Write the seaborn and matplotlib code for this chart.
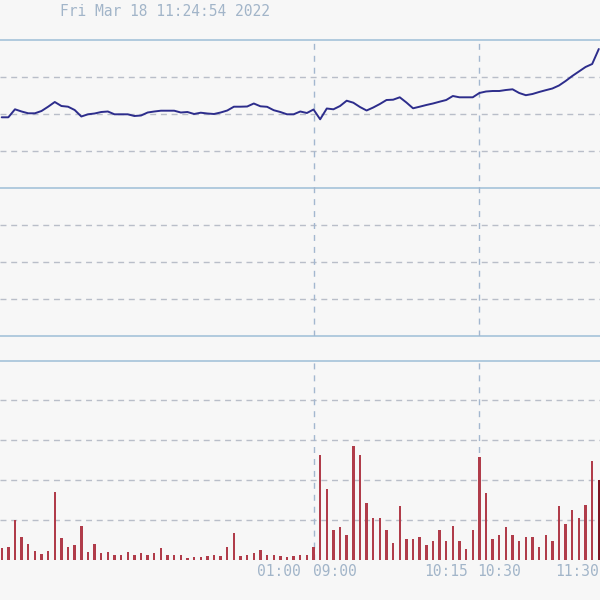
import matplotlib
matplotlib.use("Agg")
import matplotlib.pyplot as plt
import matplotlib.transforms as mtransforms
import numpy as np
import pandas as pd
import seaborn as sns

# ---------------- data ----------------
title_text = "Fri Mar 18 11:24:54 2022"

# 5-minute bar index (0..90)
bar_index = list(range(91))

price = [
    3218.7, 3218.7, 3226.7, 3224.5, 3222.7, 3222.7, 3225.0, 3229.3, 3234.0, 3230.0,
    3229.3, 3226.0, 3219.5, 3221.7, 3222.5, 3224.0, 3224.5, 3221.7, 3221.7, 3221.7,
    3220.0, 3220.5, 3223.5, 3224.5, 3225.3, 3225.3, 3225.3, 3223.5, 3224.0, 3222.0,
    3223.3, 3222.5, 3222.0, 3223.5, 3225.5, 3229.3, 3229.3, 3229.5, 3232.5, 3229.7,
    3229.2, 3225.8, 3224.0, 3221.7, 3221.7, 3224.5, 3223.0, 3226.5, 3216.7, 3227.5,
    3226.7, 3230.0, 3235.3, 3233.3, 3229.0, 3225.5, 3228.5, 3232.0, 3236.0, 3236.3,
    3238.7, 3233.5, 3227.7, 3229.3, 3231.0, 3232.5, 3234.3, 3236.0, 3240.0, 3238.7,
    3238.7, 3238.7, 3243.0, 3244.5, 3245.0, 3245.0, 3246.0, 3246.7, 3243.0, 3240.8,
    3242.0, 3244.0, 3245.8, 3247.5, 3250.5, 3255.0, 3260.0, 3264.5, 3269.0, 3272.0,
    3287.0,
]

volume = [
    12, 13, 40, 23, 16, 9, 6, 9, 68, 22,
    13, 15, 34, 8, 16, 7, 8, 5, 5, 8,
    5, 7, 5, 7, 12, 5, 5, 5, 2, 3,
    3, 4, 5, 4, 13, 27, 4, 5, 7, 10,
    5, 5, 4, 3, 4, 5, 5, 13, 105, 71,
    30, 33, 25, 114, 105, 57, 42, 42, 30, 17,
    54, 21, 21, 23, 15, 19, 30, 19, 34, 19,
    11, 30, 103, 67, 21, 25, 33, 25, 19, 23,
    23, 13, 25, 19, 54, 36, 50, 42, 55, 99,
    80,
]

session_breaks = [47, 72]
tick_labels = ["01:00", "09:00", "10:15", "10:30", "11:30"]
tick_pos = [45.0, 46.9, 70.3, 71.7, 83.4]
tick_align = ["right", "left", "right", "left", "left"]

price_min, price_max = 3000, 3296
price_grid = [3000 + 37 * k for k in range(9)]
vol_max = 199
vol_grid = [40, 80, 120, 160]

df = pd.DataFrame({"idx": bar_index, "price": price, "volume": volume})

# ---------------- style ----------------
sns.set_theme(style="white")
plt.rcParams["font.family"] = ["DejaVu Sans Mono", "DejaVu Sans"]

bg = "#f7f7f7"
solid_c = "#abc7dc"
dash_c = "#b9bec9"
vdash_c = "#a3b7cf"
text_c = "#a2b5c9"
line_c = "#2d2d8c"
bar_c = "#b03c4a"
last_bar_c = "#7d1422"

fig = plt.figure(figsize=(6, 6), dpi=100, facecolor=bg)
ax1 = fig.add_axes([0, 1 - 336 / 600, 1, 296 / 600])
ax2 = fig.add_axes([0, 1 - 560 / 600, 1, 199 / 600])

xlo, xhi = -0.256, 90.18

for ax in (ax1, ax2):
    ax.set_facecolor(bg)
    for s in ax.spines.values():
        s.set_visible(False)

# ---- price panel ----
for k, yv in enumerate(price_grid):
    if k in (0, 4, 8):
        ax1.axhline(yv, color=solid_c, lw=1.3, zorder=1, clip_on=False)
    else:
        ax1.axhline(yv, color=dash_c, lw=1.0, dashes=(4.3, 3.4), zorder=1)
for b in session_breaks:
    ax1.axvline(b, color=vdash_c, lw=1.0, dashes=(4.3, 4.3), zorder=1)

sns.lineplot(data=df, x="idx", y="price", ax=ax1, color=line_c, linewidth=1.4, zorder=3)
ax1.set_xlim(xlo, xhi)
ax1.set_ylim(price_min, price_max)
ax1.set_xlabel("")
ax1.set_ylabel("")
ax1.set_xticks([])
ax1.set_yticks([])

# ---- volume panel ----
ax2.axhline(vol_max, color=solid_c, lw=1.3, zorder=1, clip_on=False)
for yv in vol_grid:
    ax2.axhline(yv, color=dash_c, lw=1.0, dashes=(4.3, 3.4), zorder=1)
for b in session_breaks:
    ax2.axvline(b, color=vdash_c, lw=1.0, dashes=(4.3, 4.3), zorder=1)

sns.barplot(data=df, x="idx", y="volume", ax=ax2, color=bar_c, width=0.36,
            saturation=1, linewidth=0, zorder=3)
for p in ax2.patches:
    p.set_antialiased(False)
ax2.patches[-1].set_facecolor(last_bar_c)
ax2.set_xlim(xlo, xhi)
ax2.set_ylim(0, vol_max)
ax2.set_xlabel("")
ax2.set_ylabel("")
ax2.set_xticks([])
ax2.set_yticks([])

# ---- text ----
trans = mtransforms.blended_transform_factory(ax2.transData, fig.transFigure)
for lab, pos, al in zip(tick_labels, tick_pos, tick_align):
    ax2.text(pos, 1 - 572 / 600, lab, transform=trans, ha=al, va="center",
             fontsize=10.5, color=text_c, clip_on=False)

fig.text(60 / 600, 1 - 11 / 600, title_text, ha="left", va="center",
         fontsize=10.5, color=text_c)

fig.savefig("out.png", dpi=100, facecolor=bg)
